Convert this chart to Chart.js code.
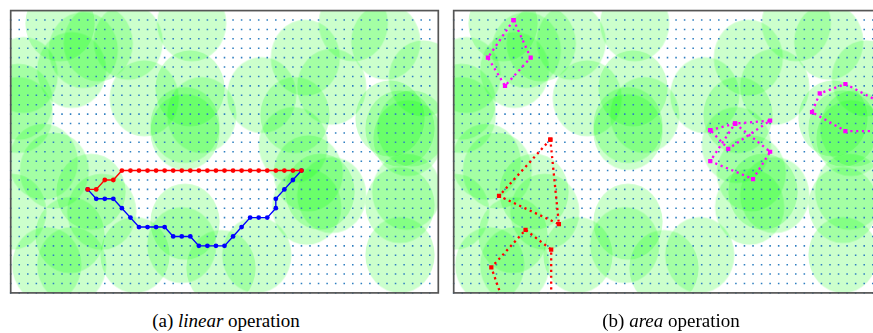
<!DOCTYPE html>
<html>
<head>
<meta charset="utf-8">
<script src="https://cdn.jsdelivr.net/npm/chart.js@4.4.1/dist/chart.umd.min.js"></script>
<style>
  html, body { margin: 0; padding: 0; background: #fff; overflow: hidden; width: 873px; height: 333px; }
  .panel { position: absolute; top: 0; width: 449px; height: 305px; }
  #panelA { left: 0; }
  #panelB { left: 443px; }
  .caption {
    position: absolute; top: 310px; transform: translateX(-50%);
    font-family: "Liberation Serif", "Times New Roman", serif; font-size: 19px;
    line-height: 22px; color: #000; white-space: nowrap;
  }
</style>
</head>
<body>
<div class="panel" id="panelA"><canvas id="chartA"></canvas></div>
<div class="panel" id="panelB"><canvas id="chartB"></canvas></div>
<div class="caption" style="left:226px">(a) <i>linear</i> operation</div>
<div class="caption" style="left:671px">(b) <i>area</i> operation</div>
<script>
// Field is 50 x 30 units; sensing discs share one range.
const SENSOR_RANGE = 4.05;
const SENSOR_X = [5.76, 8.49, 10.24, 13.75, 21.16, 0.89, 1.47, 0.89, 7.13, 15.62,
                  20.97, 20.38, 22.33, 20.38, 5.10, 3.81, 0.12, 9.39, 10.64, 6.93,
                  4.21, 7.13, 14.53, 20.38, 20.0, 24.59, 34.45, 40.06, 43.85, 48.25,
                  29.35, 37.54, 33.24, 33.05, 34.8, 36.17, 37.54, 34.61, 28.77, 44.35,
                  45.52, 46.89, 46.46, 46.3, 45.52, 45.52];
const SENSOR_Y = [1.35, 4.19, 3.48, 3.31, 1.35, 9.68, 6.84, 11.09, 6.31, 9.32,
                  8.26, 12.16, 11.09, 12.9, 17.01, 16.06, 21.37, 19.25, 21.37, 23.85,
                  27.04, 27.04, 25.97, 22.43, 24.91, 27.35, 5.0, 1.35, 3.31, 7.19,
                  8.97, 8.09, 11.09, 14.28, 17.29, 19.24, 19.6, 20.84, 25.97, 11.45,
                  12.51, 12.51, 13.54, 19.25, 20.66, 25.97];

// Lattice of candidate positions
const GRID_COLS = [0, 1, 2, 3, 4, 5, 6, 7, 8, 9, 10, 11, 12, 13, 14, 15, 16, 17, 18, 19,
                   20, 21, 22, 23, 24, 25, 26, 27, 28, 29, 30, 31, 32, 33, 34, 35, 36, 37, 38, 39,
                   40, 41, 42, 43, 44, 45, 46, 47, 48, 49];
const GRID_ROWS = [1, 2, 3, 4, 5, 6, 7, 8, 9, 10, 11, 12, 13, 14, 15, 16, 17, 18, 19, 20,
                   21, 22, 23, 24, 25, 26, 27, 28, 29, 30];

// (a) linear operation: two routes between the same end points
const LINEAR_RED_X = [9, 10, 11, 12, 13, 14, 15, 16, 17, 18, 19, 20, 21, 22, 23, 24, 25,
                      26, 27, 28, 29, 30, 31, 32, 33, 34];
const LINEAR_RED_Y = [19, 19, 18, 18, 17, 17, 17, 17, 17, 17, 17, 17, 17, 17, 17, 17, 17,
                      17, 17, 17, 17, 17, 17, 17, 17, 17];
const LINEAR_BLUE_X = [9, 10, 11, 12, 13, 14, 15, 16, 17, 18, 19, 20, 21, 22, 23, 24, 25,
                       26, 27, 28, 29, 30, 31, 31, 32, 33, 34];
const LINEAR_BLUE_Y = [19, 20, 20, 20, 21, 22, 23, 23, 23, 23, 24, 24, 24, 25, 25, 25, 25,
                       24, 23, 22, 22, 22, 21, 20, 19, 18, 17];

// (b) area operation: outlines of covered regions
const AREA_RED_1_X = [11.3, 5.3, 12.3, 11.3];
const AREA_RED_1_Y = [13.7, 19.7, 22.7, 13.7];
const AREA_RED_2_X = [5.55, 4.4, 8.4, 11.4, 11.4];
const AREA_RED_2_Y = [30.3, 27.3, 23.3, 25.4, 30.3];
const AREA_MAG_1_X = [7, 4, 6, 9, 7];
const AREA_MAG_1_Y = [1, 5, 8, 5, 1];
const AREA_MAG_2_X = [30.0, 32.9, 37.0, 32.1, 30.0];
const AREA_MAG_2_Y = [12.7, 12.0, 11.7, 14.7, 12.7];
const AREA_MAG_3_X = [32.9, 37.0, 35.0, 30.0, 32.9];
const AREA_MAG_3_Y = [12.0, 15.0, 17.9, 16.0, 12.0];
const AREA_MAG_4_X = [50.2, 45.8, 42.8, 41.9, 45.8, 50.2];
const AREA_MAG_4_Y = [9.9, 7.8, 8.8, 10.8, 12.8, 12.8];

const zip = (xs, ys) => xs.map((x, i) => ({ x, y: ys[i] }));
const lattice = [];
GRID_ROWS.forEach(r => GRID_COLS.forEach(c => lattice.push({ x: c, y: r })));

// Disc marker: an ellipse whose radii follow the x and y scales
const discCache = {};
function discStyle(ctx) {
  const xs = ctx.chart.scales.x, ys = ctx.chart.scales.y;
  if (!xs || !ys) return 'circle';
  const rx = Math.abs(xs.getPixelForValue(SENSOR_RANGE) - xs.getPixelForValue(0));
  const ry = Math.abs(ys.getPixelForValue(SENSOR_RANGE) - ys.getPixelForValue(0));
  if (!(rx > 0 && ry > 0)) return 'circle';
  const key = rx.toFixed(2) + '_' + ry.toFixed(2);
  if (!discCache[key]) {
    const c = document.createElement('canvas');
    c.width = Math.ceil(rx * 2) + 2;
    c.height = Math.ceil(ry * 2) + 2;
    const g = c.getContext('2d');
    g.fillStyle = 'rgba(0,255,0,0.2)';
    g.beginPath();
    g.ellipse(c.width / 2, c.height / 2, rx, ry, 0, 0, Math.PI * 2);
    g.fill();
    discCache[key] = c;
  }
  return discCache[key];
}

const framePlugin = {
  id: 'frame',
  afterDatasetsDraw(chart) {
    const { ctx, chartArea: a } = chart;
    ctx.save();
    ctx.strokeStyle = '#555555';
    ctx.lineWidth = 1.7;
    ctx.strokeRect(a.left, a.top, a.right - a.left, a.bottom - a.top);
    ctx.restore();
  }
};

function baseDatasets() {
  return [
    {
      label: 'discs', data: zip(SENSOR_X, SENSOR_Y), order: 10, clip: 0,
      pointStyle: discStyle, pointRadius: 36, pointBorderWidth: 0,
      pointBackgroundColor: 'rgba(0,255,0,0.2)'
    },
    {
      label: 'grid', data: lattice, order: 9, clip: 2,
      pointStyle: 'rect', pointRadius: 1.1, pointBorderWidth: 0,
      pointBackgroundColor: '#2f7fc1'
    }
  ];
}

function solidPath(label, xs, ys, color) {
  return {
    label, data: zip(xs, ys), showLine: true, order: 1, clip: 0,
    borderColor: color, borderWidth: 1.4,
    pointStyle: 'circle', pointRadius: 2.4, pointBorderWidth: 0,
    pointBackgroundColor: color
  };
}

function dottedPath(label, xs, ys, color) {
  return {
    label, data: zip(xs, ys), showLine: true, order: 1, clip: 0,
    borderColor: color, borderWidth: 2.3, borderDash: [2.2, 3.6], borderCapStyle: 'butt',
    pointStyle: 'rect', pointRadius: 3, pointBorderWidth: 0,
    pointBackgroundColor: color
  };
}

function makeChart(id, extra) {
  return new Chart(document.getElementById(id), {
    type: 'scatter',
    data: { datasets: baseDatasets().concat(extra) },
    options: {
      responsive: true, maintainAspectRatio: false, animation: false, events: [],
      layout: { autoPadding: false, padding: { left: 10.7, top: 10.6, right: 10.7, bottom: 12.1 } },
      scales: {
        x: { type: 'linear', min: 0, max: 50, display: false },
        y: { type: 'linear', min: 0, max: 30, reverse: true, display: false }
      },
      plugins: { legend: { display: false }, tooltip: { enabled: false } }
    },
    plugins: [framePlugin]
  });
}

makeChart('chartA', [
  solidPath('red route', LINEAR_RED_X, LINEAR_RED_Y, '#ff0000'),
  solidPath('blue route', LINEAR_BLUE_X, LINEAR_BLUE_Y, '#0000ff')
]);

makeChart('chartB', [
  dottedPath('red 1', AREA_RED_1_X, AREA_RED_1_Y, '#ff0000'),
  dottedPath('red 2', AREA_RED_2_X, AREA_RED_2_Y, '#ff0000'),
  dottedPath('magenta 1', AREA_MAG_1_X, AREA_MAG_1_Y, '#ff00ff'),
  dottedPath('magenta 2', AREA_MAG_2_X, AREA_MAG_2_Y, '#ff00ff'),
  dottedPath('magenta 3', AREA_MAG_3_X, AREA_MAG_3_Y, '#ff00ff'),
  dottedPath('magenta 4', AREA_MAG_4_X, AREA_MAG_4_Y, '#ff00ff')
]);
</script>
</body>
</html>
